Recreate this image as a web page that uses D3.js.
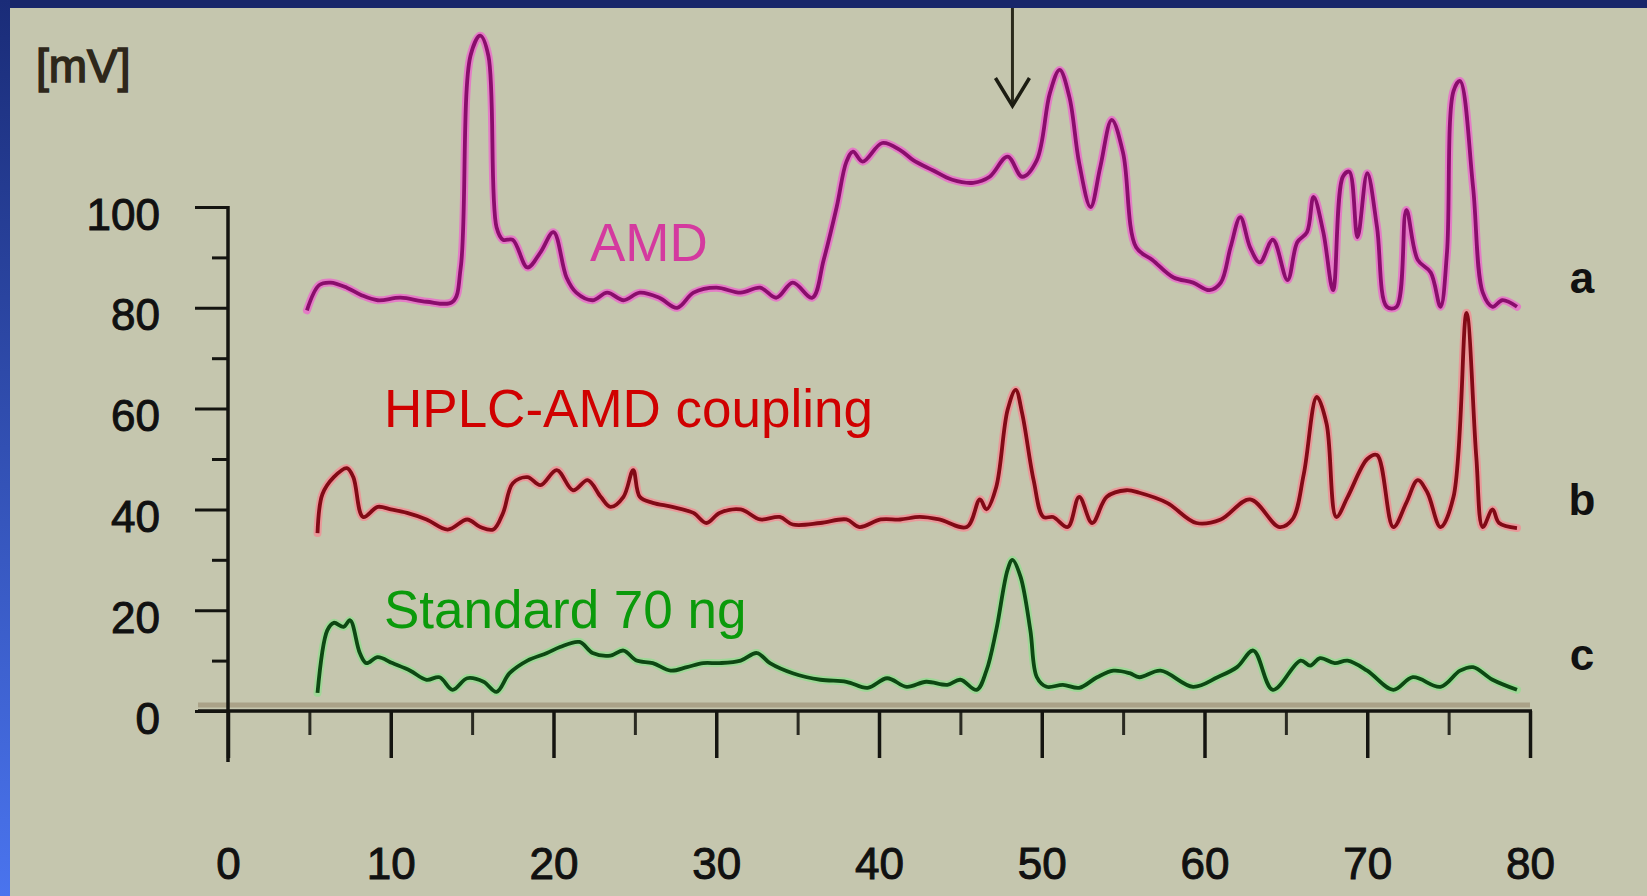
<!DOCTYPE html>
<html>
<head>
<meta charset="utf-8">
<script src="https://cdn.jsdelivr.net/npm/d3@7"></script>
<style>
  body { margin: 0; background: #c5c6ae; }
  svg { display: block; }
</style>
</head>
<body>
<div id="chart"></div>
<script>
// chromatogram traces, time in min, signal in mV
var amdTime = [4.85, 5.6, 6.3, 7.3, 8.2, 9.2, 10.6, 12.2, 13.8, 14.3, 14.9, 15.5, 16.0, 16.5, 16.9, 17.5, 18.4, 19.2, 20.0, 20.8,
    21.4, 22.4, 23.3, 24.3, 25.3, 26.5, 27.6, 28.6, 30.0, 31.5, 32.7, 33.7, 34.7, 35.9, 36.6, 37.4, 38.0, 38.4, 39.0, 40.2,
    41.3, 42.1, 43.3, 44.5, 45.8, 46.8, 47.9, 48.8, 49.7, 50.5, 51.1, 51.7, 52.3, 53.0, 53.6, 54.3, 55.0, 55.8, 56.8, 58.1,
    59.3, 60.3, 61.0, 61.6, 62.2, 62.8, 63.4, 64.2, 65.1, 65.7, 66.3, 66.7, 67.3, 67.9, 68.5, 68.9, 69.4, 70.0, 70.6, 71.2,
    71.8, 72.4, 73.1, 73.9, 74.5, 74.9, 75.3, 75.7, 76.5, 77.1, 77.7, 78.3, 79.2];
var amdMv = [79.5, 84.5, 85, 84, 82.5, 81.5, 82, 81.2, 81.2, 88, 130, 134, 130, 96, 93.5, 93.5, 88, 91, 95, 86,
    83, 81.5, 83, 81.5, 83, 82, 80, 83, 84, 83, 84, 82, 85, 82, 89.5, 100, 109, 111, 109, 112.7,
    111.3, 109.3, 107.3, 105.4, 104.8, 106, 110, 106, 109.3, 122.6, 127.2, 121.8, 108.7, 100, 108, 117.3, 110.7, 92, 89.5, 86,
    85, 83.5, 85, 92, 98, 92, 89, 93.5, 85.5, 93, 95, 102, 95, 83.5, 106, 107, 94, 106.7, 96, 80.2,
    80.2, 99.4, 89.5, 87, 80.2, 91, 123, 125, 104, 83, 80.2, 81.5, 80.2];

var hplcTime = [5.5, 5.8, 6.5, 7.3, 7.7, 8.3, 9.2, 10.0, 11.0, 12.2, 13.5, 14.7, 15.5, 16.3, 16.9, 17.5, 18.4, 19.2, 20.2, 21.2,
    22.1, 22.9, 23.5, 24.3, 24.9, 25.3, 26.1, 27.3, 28.6, 29.4, 30.2, 31.5, 32.7, 33.9, 34.7, 36.4, 38.0, 38.8, 40.1, 41.3,
    42.5, 43.7, 45.4, 46.2, 46.6, 47.2, 47.9, 48.4, 48.8, 49.5, 50.1, 50.7, 51.6, 52.3, 53.1, 54.0, 55.2, 56.0, 57.7, 59.5,
    61.0, 62.8, 64.6, 65.4, 66.1, 66.9, 67.5, 68.1, 68.8, 70.0, 70.6, 71.6, 72.4, 73.1, 73.7, 74.5, 75.3, 76.1, 76.7,
    77.1, 77.7, 78.1, 79.2];
var hplcMv = [35.3, 43, 46.4, 48.2, 46.4, 38.5, 40.5, 40, 39.3, 38, 36, 38, 36.5, 36, 39.3, 45.2, 46.4, 44.8, 47.8, 43.8,
    45.8, 42.5, 40.5, 42.5, 47.8, 42.5, 41.3, 40.5, 39.3, 37.3, 39.3, 40, 38, 38.5, 37, 37.3, 38, 36.5, 38, 38,
    38.5, 38, 36.5, 42, 40, 44.4, 59.7, 63.7, 59, 45.8, 38.5, 38.5, 36.5, 42.5, 37.3, 42.5, 43.8, 43.3, 41.3, 37.3,
    38, 42, 36.5, 38, 47, 62.3, 57, 38.5, 42.5, 50, 50.8, 36.5, 41.3, 45.8, 43.3, 36.5, 42.5, 79, 50.4,
    36.5, 40, 37.3, 36.3];

var stdTime = [5.5, 6.1, 6.5, 7.1, 7.5, 8.1, 8.5, 9.2, 10.1, 11.2, 12.2, 13.0, 13.8, 14.7, 15.7, 16.5, 17.3, 18.4, 19.6, 20.4,
    21.6, 22.4, 23.5, 24.3, 25.1, 26.1, 27.2, 28.2, 29.2, 30.2, 31.5, 32.5, 33.3, 34.7, 36.4, 38.0, 39.3, 40.5, 41.7, 42.9,
    44.2, 45.0, 46.0, 46.6, 47.2, 47.9, 48.2, 48.7, 49.3, 49.7, 50.3, 51.3, 52.3, 53.4, 54.4, 55.4, 56.0, 57.3, 59.3, 60.8,
    62.0, 63.0, 64.2, 65.9, 66.5, 67.1, 68.0, 68.8, 70.0, 71.6, 72.8, 74.5, 75.7, 76.5, 77.7, 79.2];
var stdMv = [3.6, 16, 17.5, 16.7, 18, 11.5, 9.5, 10.7, 9.5, 8, 6.2, 6.7, 4.2, 6.5, 5.8, 3.8, 7.5, 10, 11.5, 12.7,
    13.7, 11.5, 11, 12, 10, 9.5, 8, 8.7, 9.5, 9.5, 10, 11.5, 9.5, 7.5, 6.2, 5.8, 4.6, 6.5, 4.8, 5.8,
    5.2, 6.2, 4.2, 8, 16, 28, 30, 26.6, 16, 6.7, 4.8, 5.2, 4.6, 6.7, 8, 7.5, 6.7, 8, 4.8, 6.7,
    8.7, 12, 4.2, 10, 9, 10.5, 9.5, 10, 8, 4.2, 6.7, 4.8, 8, 8.7, 6.2, 4.2];

var yMajorTicks = [0, 20, 40, 60, 80, 100];
var yMinorTicks = [10, 30, 50, 70, 90];
var xMajorTicks = [0, 10, 20, 30, 40, 50, 60, 70, 80];
var xMinorTicks = [5, 15, 25, 35, 45, 55, 65, 75];
var arrowTime = 48.2;

function renderChart() {
    var width = 1647, height = 896;
    var font = "'Liberation Sans', Arial, sans-serif";

    var svg = d3.select("#chart")
        .append("svg")
        .attr("width", width)
        .attr("height", height);

    var defs = svg.append("defs");
    var grad = defs.append("linearGradient")
        .attr("id", "sideGrad")
        .attr("x1", 0).attr("y1", 0).attr("x2", 0).attr("y2", 1);
    grad.append("stop").attr("offset", "0%").attr("stop-color", "#1a2c78");
    grad.append("stop").attr("offset", "100%").attr("stop-color", "#4a74ee");

    // frame
    svg.append("rect").attr("width", width).attr("height", height).attr("fill", "#c5c6ae");
    svg.append("rect").attr("width", width).attr("height", 8).attr("fill", "#18266a");
    svg.append("rect").attr("width", 10).attr("height", height).attr("fill", "url(#sideGrad)");

    var xScale = d3.scaleLinear().domain([0, 80]).range([228, 1530]);
    var yScale = d3.scaleLinear().domain([0, 100]).range([711, 207]);

    var axisColor = "#141410";

    // shadow band just above the x axis
    svg.append("line")
        .attr("x1", xScale(0) - 30).attr("x2", xScale(80))
        .attr("y1", yScale(0) - 6).attr("y2", yScale(0) - 6)
        .attr("stroke", "#94866a").attr("stroke-width", 5).attr("opacity", 0.55);

    // y axis
    var gy = svg.append("g").attr("transform", "translate(" + xScale(0) + ",0)");
    gy.call(d3.axisLeft(yScale).tickValues(yMajorTicks).tickSize(33).tickPadding(35))
    gy.select(".domain").remove();
    gy.selectAll(".tick line").attr("stroke", axisColor).attr("stroke-width", 3);
    gy.selectAll(".tick text")
        .attr("fill", "#111")
        .attr("stroke", "#111")
        .attr("stroke-width", 1)
        .attr("dy", "0.5em")
        .style("font-family", font)
        .style("font-size", "44px");

    var gyMinor = svg.append("g").attr("transform", "translate(" + xScale(0) + ",0)");
    gyMinor.call(d3.axisLeft(yScale).tickValues(yMinorTicks).tickSize(16).tickFormat(""));
    gyMinor.select(".domain").remove();
    gyMinor.selectAll(".tick line").attr("stroke", axisColor).attr("stroke-width", 3);

    svg.append("line")
        .attr("x1", xScale(0)).attr("x2", xScale(0))
        .attr("y1", yScale(100) - 1).attr("y2", yScale(0) + 51)
        .attr("stroke", axisColor).attr("stroke-width", 3.5);

    // x axis
    var gx = svg.append("g").attr("transform", "translate(0," + yScale(0) + ")");
    gx.call(d3.axisBottom(xScale).tickValues(xMajorTicks).tickSize(47).tickPadding(90));
    gx.select(".domain").remove();
    gx.selectAll(".tick line").attr("stroke", axisColor).attr("stroke-width", 3.5);
    gx.selectAll(".tick text")
        .attr("fill", "#111")
        .attr("stroke", "#111")
        .attr("stroke-width", 1)
        .style("font-family", font)
        .style("font-size", "44px");

    var gxMinor = svg.append("g").attr("transform", "translate(0," + yScale(0) + ")");
    gxMinor.call(d3.axisBottom(xScale).tickValues(xMinorTicks).tickSize(24).tickFormat(""));
    gxMinor.select(".domain").remove();
    gxMinor.selectAll(".tick line").attr("stroke", "#2a2a22").attr("stroke-width", 3);

    svg.append("line")
        .attr("x1", xScale(0) - 30).attr("x2", xScale(80) + 2)
        .attr("y1", yScale(0)).attr("y2", yScale(0))
        .attr("stroke", axisColor).attr("stroke-width", 3.5);

    // unit label
    svg.append("text")
        .attr("x", 36).attr("y", 82)
        .attr("fill", "#2e271a")
        .attr("stroke", "#2e271a")
        .attr("stroke-width", 1.5)
        .style("font-family", font)
        .style("font-size", "46px")
        .text("[mV]");

    // traces
    var series = [
        { t: amdTime, v: amdMv, halo: "#e47cc6", core: "#8a0d6c" },
        { t: hplcTime, v: hplcMv, halo: "#e9999a", core: "#820a16" },
        { t: stdTime, v: stdMv, halo: "#9fd897", core: "#0d4813" }
    ];

    var line = d3.line()
        .curve(d3.curveCatmullRom.alpha(0.5))
        .x(function (d) { return xScale(d[0]); })
        .y(function (d) { return yScale(d[1]); });

    series.forEach(function (s) {
        var pts = s.t.map(function (t, i) { return [t, s.v[i]]; });
        svg.append("path")
            .datum(pts)
            .attr("fill", "none")
            .attr("stroke", s.halo)
            .attr("stroke-width", 8)
            .attr("stroke-linejoin", "round")
            .attr("stroke-linecap", "round")
            .attr("d", line);
        svg.append("path")
            .datum(pts)
            .attr("fill", "none")
            .attr("stroke", s.core)
            .attr("stroke-width", 3.8)
            .attr("stroke-linejoin", "round")
            .attr("d", line);
    });

    // arrow marking the standard peak
    var ax = xScale(arrowTime);
    svg.append("line")
        .attr("x1", ax).attr("x2", ax).attr("y1", 8).attr("y2", 106)
        .attr("stroke", "#2b2a1c").attr("stroke-width", 3);
    svg.append("path")
        .attr("d", "M" + (ax - 17) + ",78 L" + ax + ",106 L" + (ax + 17) + ",78")
        .attr("fill", "none")
        .attr("stroke", "#1c1c12")
        .attr("stroke-width", 3.5);

    // series labels
    var labels = [
        { text: "AMD", x: 590, y: 261, color: "#d43a9f" },
        { text: "HPLC-AMD coupling", x: 384, y: 427, color: "#d00000" },
        { text: "Standard 70 ng", x: 384, y: 628, color: "#0b9a0b" }
    ];
    svg.selectAll(".series-label")
        .data(labels)
        .enter().append("text")
        .attr("class", "series-label")
        .attr("x", function (d) { return d.x; })
        .attr("y", function (d) { return d.y; })
        .attr("fill", function (d) { return d.color; })
        .style("font-family", font)
        .style("font-size", "53px")
        .text(function (d) { return d.text; });

    var traceTags = [
        { text: "a", y: 293 },
        { text: "b", y: 515 },
        { text: "c", y: 670 }
    ];
    svg.selectAll(".tag")
        .data(traceTags)
        .enter().append("text")
        .attr("class", "tag")
        .attr("x", 1582)
        .attr("y", function (d) { return d.y; })
        .attr("text-anchor", "middle")
        .attr("fill", "#111")
        .style("font-family", font)
        .style("font-weight", "bold")
        .style("font-size", "44px")
        .text(function (d) { return d.text; });
}

renderChart()
</script>
</body>
</html>
